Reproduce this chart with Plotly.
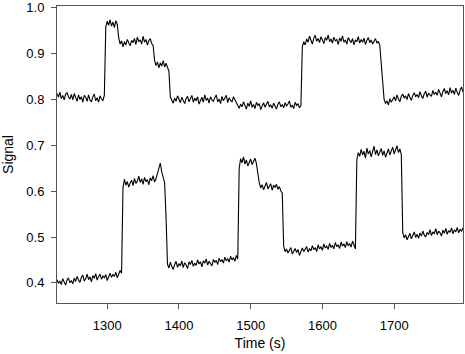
import plotly.graph_objects as go

time_s = list(range(1230, 1798, 2))

signal_top = [
    # 1230-1296 baseline
    0.813, 0.805, 0.816, 0.802, 0.809, 0.799, 0.812, 0.815, 0.806, 0.801, 0.811,
    0.799, 0.813, 0.803, 0.796, 0.810, 0.800, 0.806, 0.794, 0.809, 0.805,
    0.796, 0.810, 0.799, 0.795, 0.806, 0.812, 0.797, 0.804, 0.794, 0.808, 0.801, 0.798, 0.809,
    # 1298-1314 first peak
    0.958, 0.971, 0.962, 0.974, 0.960, 0.969, 0.957, 0.972, 0.964,
    # 1316-1364
    0.935, 0.921, 0.928, 0.915, 0.926, 0.919, 0.931, 0.922, 0.917, 0.929,
    0.924, 0.933, 0.920, 0.936, 0.926, 0.930, 0.921, 0.938, 0.925, 0.931,
    0.919, 0.928, 0.933, 0.922, 0.918,
    # 1366-1386
    0.886, 0.874, 0.882, 0.869, 0.880, 0.873, 0.885, 0.871, 0.879, 0.868, 0.862,
    # 1388-1478
    0.806, 0.797, 0.792, 0.803, 0.796, 0.808, 0.799, 0.793, 0.805, 0.798,
    0.791, 0.802, 0.807, 0.795, 0.801, 0.809, 0.794, 0.803, 0.797, 0.806,
    0.790, 0.800, 0.805, 0.794, 0.810, 0.798, 0.803, 0.792, 0.806, 0.799,
    0.796, 0.804, 0.810, 0.795, 0.801, 0.791, 0.807, 0.797, 0.802, 0.809,
    0.793, 0.804, 0.798, 0.795, 0.806, 0.800,
    # 1480-1570
    0.792, 0.786, 0.781, 0.790, 0.784, 0.795, 0.788, 0.779, 0.792, 0.785,
    0.797, 0.783, 0.789, 0.780, 0.794, 0.787, 0.791, 0.778, 0.786, 0.793,
    0.783, 0.790, 0.796, 0.784, 0.788, 0.781, 0.792, 0.786, 0.779, 0.790,
    0.795, 0.784, 0.789, 0.782, 0.793, 0.786, 0.790, 0.797, 0.783, 0.788,
    0.780, 0.794, 0.787, 0.791, 0.782, 0.786,
    # 1572-1680 second peak
    0.915, 0.926, 0.919, 0.932, 0.925, 0.938, 0.928, 0.921, 0.934, 0.940,
    0.927, 0.933, 0.924, 0.937, 0.930, 0.922, 0.935, 0.929, 0.941, 0.926,
    0.932, 0.923, 0.936, 0.928, 0.931, 0.920, 0.934, 0.927, 0.939, 0.925,
    0.930, 0.921, 0.935, 0.928, 0.924, 0.933, 0.919, 0.930, 0.926, 0.937,
    0.923, 0.931, 0.925, 0.934, 0.920, 0.929, 0.935, 0.924, 0.930, 0.921,
    0.928, 0.933, 0.923, 0.927, 0.918,
    # 1682-1684 fall
    0.880, 0.826,
    # 1686-1796
    0.800, 0.791, 0.797, 0.788, 0.802, 0.794, 0.799, 0.806, 0.797, 0.810,
    0.801, 0.795, 0.807, 0.812, 0.803, 0.808, 0.800, 0.813, 0.805, 0.798,
    0.809, 0.815, 0.806, 0.811, 0.804, 0.817, 0.808, 0.802, 0.813, 0.818,
    0.805, 0.814, 0.810, 0.807, 0.820, 0.811, 0.816, 0.809, 0.822, 0.812,
    0.806, 0.817, 0.824, 0.813, 0.819, 0.810, 0.826, 0.814, 0.820, 0.811,
    0.825, 0.815, 0.809, 0.821, 0.827, 0.816,
]

signal_bottom = [
    # 1230-1320 baseline
    0.407, 0.399, 0.404, 0.396, 0.409, 0.401, 0.395, 0.406, 0.411, 0.400,
    0.405, 0.398, 0.410, 0.403, 0.414, 0.406, 0.401, 0.412, 0.417, 0.404,
    0.409, 0.419, 0.407, 0.413, 0.402, 0.416, 0.410, 0.420, 0.406, 0.414,
    0.419, 0.408, 0.415, 0.411, 0.418, 0.405, 0.416, 0.421, 0.412, 0.418,
    0.414, 0.423, 0.411, 0.419, 0.427, 0.421,
    # 1322-1380 first peak
    0.608, 0.626, 0.613, 0.621, 0.609, 0.618, 0.624, 0.612, 0.628, 0.617,
    0.622, 0.633, 0.619, 0.627, 0.615, 0.630, 0.621, 0.625, 0.614, 0.629,
    0.623, 0.634, 0.620, 0.627, 0.638, 0.645, 0.661, 0.642, 0.631, 0.619,
    # 1382 fall
    0.545,
    # 1384-1482
    0.441, 0.432, 0.445, 0.436, 0.429, 0.440, 0.447, 0.434, 0.442, 0.437,
    0.448, 0.433, 0.444, 0.439, 0.431, 0.446, 0.440, 0.449, 0.436, 0.443,
    0.438, 0.450, 0.441, 0.446, 0.435, 0.448, 0.443, 0.452, 0.439, 0.447,
    0.442, 0.437, 0.451, 0.445, 0.449, 0.440, 0.454, 0.446, 0.451, 0.443,
    0.456, 0.448, 0.453, 0.445, 0.458, 0.450, 0.455, 0.447, 0.460, 0.452,
    # 1484-1508 second peak
    0.650, 0.671, 0.662, 0.675, 0.659, 0.668, 0.655, 0.664, 0.670, 0.658,
    0.666, 0.672, 0.660,
    # 1510 step
    0.632,
    # 1512-1544
    0.618, 0.607, 0.614, 0.603, 0.612, 0.619, 0.605, 0.611, 0.616, 0.602,
    0.613, 0.608, 0.615, 0.604, 0.610, 0.601, 0.596,
    # 1546-1646
    0.480, 0.468, 0.474, 0.465, 0.471, 0.477, 0.463, 0.470, 0.475, 0.466,
    0.473, 0.460, 0.469, 0.476, 0.468, 0.473, 0.479, 0.467, 0.474, 0.470,
    0.481, 0.472, 0.477, 0.468, 0.483, 0.474, 0.479, 0.471, 0.485, 0.476,
    0.480, 0.473, 0.486, 0.477, 0.482, 0.474, 0.488, 0.479, 0.483, 0.475,
    0.489, 0.480, 0.485, 0.477, 0.490, 0.481, 0.486, 0.478, 0.491, 0.483,
    0.474,
    # 1648-1710 third peak
    0.668, 0.684, 0.676, 0.691, 0.679, 0.687, 0.672, 0.694, 0.681, 0.689,
    0.675, 0.686, 0.698, 0.680, 0.690, 0.677, 0.685, 0.693, 0.678, 0.688,
    0.674, 0.683, 0.692, 0.679, 0.687, 0.696, 0.681, 0.690, 0.699, 0.684,
    0.692, 0.680,
    # 1712-1796
    0.510, 0.498, 0.505, 0.494, 0.501, 0.508, 0.496, 0.503, 0.511, 0.499,
    0.506, 0.497, 0.509, 0.502, 0.513, 0.504, 0.500, 0.510, 0.505, 0.516,
    0.503, 0.511, 0.507, 0.518, 0.505, 0.513, 0.509, 0.502, 0.515, 0.508,
    0.519, 0.506, 0.514, 0.510, 0.520, 0.507, 0.516, 0.511, 0.521, 0.509,
    0.517, 0.512, 0.520,
]

x_ticks = [1300, 1400, 1500, 1600, 1700]
y_ticks = [0.4, 0.5, 0.6, 0.7, 0.8, 0.9, 1.0]
y_tick_text = ["0.4", "0.5", "0.6", "0.7", "0.8", "0.9", "1.0"]

fig = go.Figure()
for series in (signal_top, signal_bottom):
    fig.add_trace(go.Scatter(
        x=time_s[:len(series)], y=series, mode="lines",
        line=dict(color="black", width=1.1),
        showlegend=False, hoverinfo="skip",
    ))

axis_color = "#555555"
font_family = "Liberation Sans, Arial, sans-serif"

fig.update_layout(
    width=465, height=354,
    margin=dict(l=57, r=2, t=6, b=51),
    plot_bgcolor="white", paper_bgcolor="white",
    font=dict(family=font_family, size=13, color="black"),
)
fig.update_xaxes(
    range=[1230, 1796], tickvals=x_ticks, automargin=False,
    showgrid=False, zeroline=False,
    showline=True, mirror=True, linecolor=axis_color, linewidth=1,
    ticks="outside", ticklen=5, tickcolor=axis_color,
    ticklabelstandoff=5,
    tickfont=dict(size=13),
    title=dict(text="Time (s)", font=dict(size=14), standoff=6),
)
fig.update_yaxes(
    range=[0.356, 1.004], tickvals=y_ticks, ticktext=y_tick_text, automargin=False,
    showgrid=False, zeroline=False,
    showline=True, mirror=True, linecolor=axis_color, linewidth=1,
    ticks="outside", ticklen=5, tickcolor=axis_color,
    ticklabelstandoff=4,
    tickfont=dict(size=13),
    title=dict(text="Signal", font=dict(size=14), standoff=10),
)

fig.write_html(
    "out.html",
    config={"displayModeBar": False, "staticPlot": True},
    post_script="document.body.style.margin='0';document.body.style.overflow='hidden';",
)
